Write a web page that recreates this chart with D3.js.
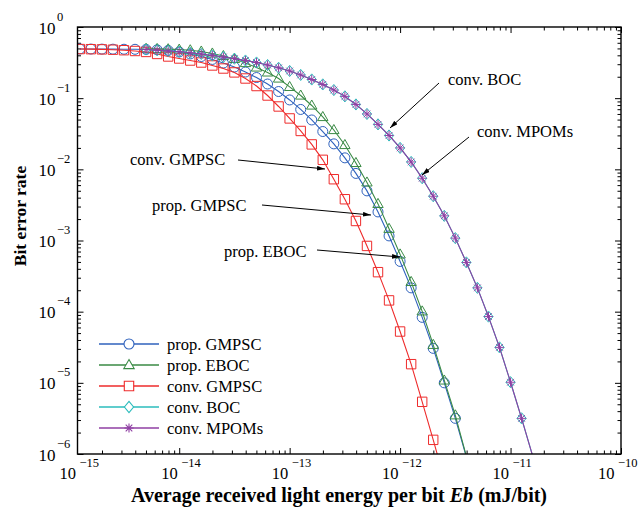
<!DOCTYPE html>
<html>
<head>
<meta charset="utf-8">
<script src="https://cdn.jsdelivr.net/npm/d3@7/dist/d3.min.js"></script>
<style>
  body { margin: 0; background: #fff; }
  svg { display: block; }
  text { font-family: "Liberation Serif", "Times New Roman", serif; fill: #000; }
</style>
</head>
<body>
<div id="chart"></div>
<script>
// log10(Eb) des points de simulation (pas de 0.1 décade)
const ebExp = [-14.9, -14.8, -14.7, -14.6, -14.5, -14.4, -14.3, -14.2, -14.1, -14.0,
  -13.9, -13.8, -13.7, -13.6, -13.5, -13.4, -13.3, -13.2, -13.1, -13.0,
  -12.9, -12.8, -12.7, -12.6, -12.5, -12.4, -12.3, -12.2, -12.1, -12.0,
  -11.9, -11.8, -11.7, -11.6, -11.5, -11.4, -11.3, -11.2, -11.1, -11.0,
  -10.9, -10.8];

// BER ; chaque série commence à l'indice "start" de ebExp
const berPropGMPSC = [0.491, 0.490, 0.489, 0.488, 0.487, 0.486, 0.484, 0.478, 0.468, 0.446,
  0.418, 0.385, 0.350, 0.312, 0.274, 0.233, 0.195, 0.158, 0.124, 0.0944,
  0.0694, 0.0494, 0.0340, 0.0228, 0.0145, 8.76e-3, 4.98e-3, 2.52e-3, 1.16e-3, 5.08e-4,
  2.16e-4, 8.32e-5, 3.05e-5, 1.00e-5, 3.17e-6, 9.1e-7];
const berPropEBOC = [0.495, 0.492, 0.488, 0.482, 0.472, 0.453, 0.425, 0.392, 0.356, 0.312,
  0.270, 0.230, 0.189, 0.144, 0.109, 0.0789, 0.0544, 0.0357, 0.0220, 0.0123,
  6.55e-3, 3.27e-3, 1.46e-3, 6.38e-4, 2.62e-4, 1.01e-4, 3.42e-5, 1.08e-5, 3.50e-6, 9.3e-7];
const berConvGMPSC = [0.490, 0.488, 0.485, 0.480, 0.472, 0.460, 0.446, 0.418, 0.385, 0.361,
  0.338, 0.317, 0.288, 0.261, 0.230, 0.189, 0.148, 0.109, 0.0764, 0.0519,
  0.0346, 0.0224, 0.0136, 7.26e-3, 3.80e-3, 1.88e-3, 8.39e-4, 3.59e-4, 1.44e-4, 5.26e-5,
  1.83e-5, 5.41e-6, 1.58e-6, 4.4e-7];
const berConvBOC = [0.483, 0.472, 0.460, 0.449, 0.434, 0.418, 0.398, 0.379, 0.359, 0.338,
  0.317, 0.292, 0.267, 0.241, 0.212, 0.183, 0.156, 0.130, 0.106, 0.0816,
  0.0600, 0.0428, 0.0299, 0.0200, 0.0127, 7.50e-3, 4.19e-3, 2.22e-3, 1.08e-3, 4.92e-4,
  2.16e-4, 8.53e-5, 3.15e-5, 1.02e-5, 3.17e-6, 9.4e-7];
const berConvMPOMs = [0.483, 0.472, 0.460, 0.449, 0.434, 0.418, 0.398, 0.379, 0.359, 0.338,
  0.317, 0.292, 0.267, 0.241, 0.212, 0.183, 0.156, 0.130, 0.106, 0.0816,
  0.0600, 0.0428, 0.0299, 0.0200, 0.0127, 7.50e-3, 4.19e-3, 2.22e-3, 1.08e-3, 4.92e-4,
  2.16e-4, 8.53e-5, 3.15e-5, 1.02e-5, 3.17e-6, 9.4e-7];

const seriesNames = ["prop. GMPSC", "prop. EBOC", "conv. GMPSC", "conv. BOC", "conv. MPOMs"];
const seriesStart = [0, 6, 0, 6, 6];
const seriesColors = ["#2f62bd", "#3a8a45", "#ee2b2b", "#2bbcbc", "#8f3fa3"];

const xTickExp = [-15, -14, -13, -12, -11, -10];
const yTickExp = [0, -1, -2, -3, -4, -5, -6];

// annotations : texte, position du texte, départ et pointe de la flèche
const notes = [
  { text: "conv. BOC",   tx: 448, ty: 85,  x1: 439, y1: 83,  x2: 390, y2: 128 },
  { text: "conv. MPOMs", tx: 477, ty: 137, x1: 469, y1: 137, x2: 422, y2: 175 },
  { text: "conv. GMPSC", tx: 130, ty: 165, x1: 238, y1: 160, x2: 325, y2: 169 },
  { text: "prop. GMPSC", tx: 152, ty: 211, x1: 262, y1: 205, x2: 371, y2: 215 },
  { text: "prop. EBOC",  tx: 224, ty: 257, x1: 317, y1: 250, x2: 400, y2: 257 }
];

const width = 638, height = 510;
const plot = { left: 77.5, right: 621, top: 27, bottom: 454 };

const x = d3.scaleLog().domain([1.2e-15, 1e-10]).range([plot.left, plot.right]);
const y = d3.scaleLog().domain([1e-6, 1]).range([plot.bottom, plot.top]);

const series = [berPropGMPSC, berPropEBOC, berConvGMPSC, berConvBOC, berConvMPOMs].map((vals, i) => ({
  name: seriesNames[i],
  color: seriesColors[i],
  points: vals.map((v, j) => ({ e: Math.pow(10, ebExp[seriesStart[i] + j]), ber: v }))
}));

// formes des marqueurs (style MATLAB)
const symbolPath = [
  "M5,0A5,5 0 1,1 -5,0A5,5 0 1,1 5,0Z",
  "M0,-5.5L5.2,3.6L-5.2,3.6Z",
  "M-4.7,-4.7H4.7V4.7H-4.7Z",
  "M0,-5.6L4.6,0L0,5.6L-4.6,0Z",
  "M-4.6,0H4.6M0,-4.6V4.6M-3.3,-3.3L3.3,3.3M-3.3,3.3L3.3,-3.3"
];

const svg = d3.select("#chart").append("svg")
  .attr("width", width).attr("height", height)
  .attr("viewBox", [0, 0, width, height]);

const defs = svg.append("defs");
defs.append("clipPath").attr("id", "clip")
  .append("rect")
  .attr("x", plot.left).attr("y", plot.top)
  .attr("width", plot.right - plot.left).attr("height", plot.bottom - plot.top);

defs.append("marker")
  .attr("id", "arrow")
  .attr("viewBox", "0 0 10 6")
  .attr("refX", 10).attr("refY", 3)
  .attr("markerWidth", 8).attr("markerHeight", 5)
  .attr("markerUnits", "userSpaceOnUse")
  .attr("orient", "auto")
  .append("path").attr("d", "M0,0L10,3L0,6Z").attr("fill", "#000");

// graduations (majeures + mineures), vers l'intérieur sur les 4 côtés
const xMajor = xTickExp.slice(1).map(p => Math.pow(10, p));
const xMinor = [];
xTickExp.slice(0, -1).forEach(p => d3.range(2, 10).forEach(m => {
  const v = m * Math.pow(10, p);
  if (v > x.domain()[0] && v < x.domain()[1]) xMinor.push(v);
}));
const yMajor = yTickExp.map(p => Math.pow(10, p));
const yMinor = [];
yTickExp.slice(1).forEach(p => d3.range(2, 10).forEach(m => yMinor.push(m * Math.pow(10, p))));

const tickAxes = [
  [d3.axisBottom(x), `translate(0,${plot.bottom})`, xMajor, xMinor],
  [d3.axisTop(x), `translate(0,${plot.top})`, xMajor, xMinor],
  [d3.axisLeft(y), `translate(${plot.left},0)`, yMajor, yMinor],
  [d3.axisRight(y), `translate(${plot.right},0)`, yMajor, yMinor]
];
tickAxes.forEach(([ax, tr, major, minor]) => {
  svg.append("g").attr("transform", tr)
    .call(ax.tickValues(major).tickSize(-6).tickSizeOuter(0).tickFormat(""))
    .call(g => g.select(".domain").remove())
    .call(g => g.selectAll("line").attr("stroke", "#000").attr("stroke-width", 1));
  svg.append("g").attr("transform", tr)
    .call(ax.tickValues(minor).tickSize(-3.5).tickSizeOuter(0).tickFormat(""))
    .call(g => g.select(".domain").remove())
    .call(g => g.selectAll("line").attr("stroke", "#000").attr("stroke-width", 1));
});

const fmtExp = p => p < 0 ? "\u2212" + Math.abs(p) : String(p);

// étiquettes 10^n
const xLab = svg.append("g");
xTickExp.forEach((p, i) => {
  let px = i === 0 ? x.range()[0] : x(Math.pow(10, p));
  if (i === xTickExp.length - 1) px -= 5; // dernière étiquette rentrée dans la page
  xLab.append("text").attr("x", px - 1.5).attr("y", 479)
    .attr("text-anchor", "end").attr("font-size", 16.5).text("10");
  xLab.append("text").attr("x", px + 2).attr("y", 467)
    .attr("font-size", 12.5).text(fmtExp(p));
});
const yLab = svg.append("g");
yTickExp.forEach(p => {
  const py = y(Math.pow(10, p));
  yLab.append("text").attr("x", 55.5).attr("y", py + 6.5)
    .attr("text-anchor", "end").attr("font-size", 17).text("10");
  yLab.append("text").attr("x", 57).attr("y", py - 6.5)
    .attr("font-size", 12.5).text(fmtExp(p));
});

// courbes
const line = d3.line().x(d => x(d.e)).y(d => y(d.ber));
const curves = svg.append("g").attr("clip-path", "url(#clip)");
series.forEach((s, i) => {
  const g = curves.append("g");
  g.append("path").datum(s.points)
    .attr("d", line).attr("fill", "none")
    .attr("stroke", s.color).attr("stroke-width", 1.1);
  g.selectAll("path.mk")
    .data(s.points.filter(d => d.ber >= 1e-6))
    .join("path").attr("class", "mk")
    .attr("transform", d => `translate(${x(d.e)},${y(d.ber)})`)
    .attr("d", symbolPath[i])
    .attr("fill", "none").attr("stroke", s.color).attr("stroke-width", 1);
});

// cadre
svg.append("rect")
  .attr("x", plot.left).attr("y", plot.top)
  .attr("width", plot.right - plot.left).attr("height", plot.bottom - plot.top)
  .attr("fill", "none").attr("stroke", "#000").attr("stroke-width", 1.4);

// légende
const legend = svg.append("g");
series.forEach((s, i) => {
  const ly = 344 + i * 21;
  legend.append("line").attr("x1", 99).attr("x2", 159).attr("y1", ly).attr("y2", ly)
    .attr("stroke", s.color).attr("stroke-width", 1.6);
  legend.append("path").attr("transform", `translate(129,${ly})`)
    .attr("d", symbolPath[i]).attr("fill", i === 4 ? "none" : "#fff")
    .attr("stroke", s.color).attr("stroke-width", 1.1);
  legend.append("text").attr("x", 167).attr("y", ly + 5.5)
    .attr("font-size", 16.5).text(s.name);
});

// annotations fléchées
const ann = svg.append("g");
notes.forEach(n => {
  ann.append("text").attr("x", n.tx).attr("y", n.ty).attr("font-size", 16.5).text(n.text);
  ann.append("line").attr("x1", n.x1).attr("y1", n.y1).attr("x2", n.x2).attr("y2", n.y2)
    .attr("stroke", "#000").attr("stroke-width", 1).attr("marker-end", "url(#arrow)");
});

// titres des axes
svg.append("text")
  .attr("transform", "translate(26,216) rotate(-90)")
  .attr("text-anchor", "middle").attr("font-size", 17.5).attr("font-weight", "bold")
  .text("Bit error rate");

const xt = svg.append("text")
  .attr("x", 339).attr("y", 502)
  .attr("text-anchor", "middle").attr("font-size", 20).attr("font-weight", "bold");
xt.append("tspan").text("Average received light energy per bit ");
xt.append("tspan").attr("font-style", "italic").text("Eb");
xt.append("tspan").text(" (mJ/bit)");
</script>
</body>
</html>
